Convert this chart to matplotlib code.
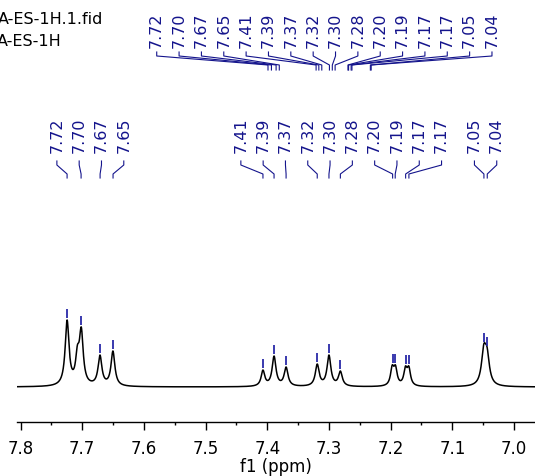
import numpy as np
import matplotlib.pyplot as plt
from matplotlib.ticker import MultipleLocator, FormatStrFormatter

# picked peaks shown with labels (ppm)
peak_labels = ["7.72", "7.70", "7.67", "7.65", "7.41", "7.39", "7.37", "7.32",
               "7.30", "7.28", "7.20", "7.19", "7.17", "7.17", "7.05", "7.04"]
peak_ppm = [7.7245, 7.7018, 7.6710, 7.6500, 7.4070, 7.3890, 7.3695, 7.3190,
            7.3000, 7.2815, 7.1968, 7.1926, 7.1757, 7.1704, 7.0488, 7.0434]

# lines making up the trace: centre (ppm), height, width (ppm)
line_ppm = [7.7245, 7.7078, 7.7015, 7.6712, 7.6502, 7.4070, 7.3890, 7.3695,
            7.3190, 7.3000, 7.2815, 7.1975, 7.1922, 7.1760, 7.1705, 7.0490, 7.0437]
line_height = [67, 42, 60, 32, 36, 17, 31, 20, 23, 32, 16, 22, 22, 21, 21, 43, 40]
line_width = [0.0075, 0.007, 0.0075, 0.0075, 0.0075, 0.007, 0.0075, 0.0075,
              0.0075, 0.0075, 0.0075, 0.0065, 0.0065, 0.0065, 0.0065, 0.009, 0.009]

titles = ["A-ES-1H.1.fid", "A-ES-1H"]

label_color = "#14148c"
W, H = 535, 477


def lorentz(x, x0, w):
    hw = w / 2
    return hw**2 / ((x - x0)**2 + hw**2)


# amplitudes so the summed trace hits the read heights at each line
lp = np.array(line_ppm)
lw_ = np.array(line_width)
M = np.array([[lorentz(xi, x0, w) for x0, w in zip(lp, lw_)] for xi in lp])
amps = np.clip(np.linalg.solve(M, np.array(line_height, float)), 0, None)


def trace(x):
    x = np.asarray(x, float)
    return sum(a * lorentz(x, x0, w) for a, x0, w in zip(amps, lp, lw_))


def spread(targets, gap):
    clusters = [[t] for t in targets]
    merged = True
    while merged:
        merged = False
        out = []
        for c in clusters:
            if out:
                prev = out[-1]
                pr = np.mean(prev) + (len(prev) - 1) * gap / 2
                cl = np.mean(c) - (len(c) - 1) * gap / 2
                if cl - pr < gap:
                    out[-1] = prev + c
                    merged = True
                    continue
            out.append(c)
        clusters = out
    pos = []
    for c in clusters:
        m = np.mean(c)
        pos += list(m + (np.arange(len(c)) - (len(c) - 1) / 2) * gap)
    return pos


fig = plt.figure(figsize=(W / 100, H / 100), dpi=100)
ax = fig.add_axes([17 / W, (H - 423) / H, (W - 17) / W, 423 / H])

x = np.linspace(7.8057, 6.966, 4000)
ax.plot(x, trace(x), color="black", lw=1.1)
ax.set_xlim(7.8057, 6.966)
ax.set_ylim(-35, 388)

# peak markers
hp = trace(peak_ppm)
ax.vlines(peak_ppm, hp + 2, hp + 11, color="#2a2aa8", lw=1.3)

for s in ["top", "left", "right"]:
    ax.spines[s].set_visible(False)
ax.spines["bottom"].set_linewidth(1.0)
ax.set_yticks([])
ax.xaxis.set_major_locator(MultipleLocator(0.1))
ax.xaxis.set_minor_locator(MultipleLocator(0.05))
ax.xaxis.set_major_formatter(FormatStrFormatter("%.1f"))
ax.tick_params(axis="x", which="major", length=6, width=1.0, labelsize=12, pad=6.5)
ax.tick_params(axis="x", which="minor", length=2.5, width=1.0)
ax.set_xlabel("f1 (ppm)", fontsize=12, labelpad=-0.5)

# overlay in pixel coordinates for labels
ov = fig.add_axes([0, 0, 1, 1])
ov.set_xlim(0, W)
ov.set_ylim(H, 0)
ov.axis("off")
ov.patch.set_visible(False)

peak_px = [ax.transData.transform((p, 0))[0] for p in peak_ppm]

# middle labels
mid_pos = spread(peak_px, 22.3)
for lab, lx, px in zip(peak_labels, mid_pos, peak_px):
    ov.text(lx, 153, lab, rotation=90, ha="center", va="bottom",
            fontsize=11.5, color=label_color)
    ov.plot([lx, lx, px, px], [162, 166, 175, 179], color=label_color, lw=0.8)

# top labels, linked to the overview scale
over_px = [268 + (7.7245 - p) * 151.5 for p in peak_ppm]
top_pos = spread(over_px, 22.35)
for lab, lx, tx in zip(peak_labels, top_pos, over_px):
    ov.text(lx, 48, lab, rotation=90, ha="center", va="bottom",
            fontsize=11.5, color=label_color)
    ov.plot([lx, lx, tx, tx], [53, 57, 66, 71], color=label_color, lw=0.8)

ov.text(103, 19, titles[0], ha="right", va="center", fontsize=11.5)
ov.text(62, 41, titles[1], ha="right", va="center", fontsize=11.5)

fig.savefig("out.png", dpi=100)
